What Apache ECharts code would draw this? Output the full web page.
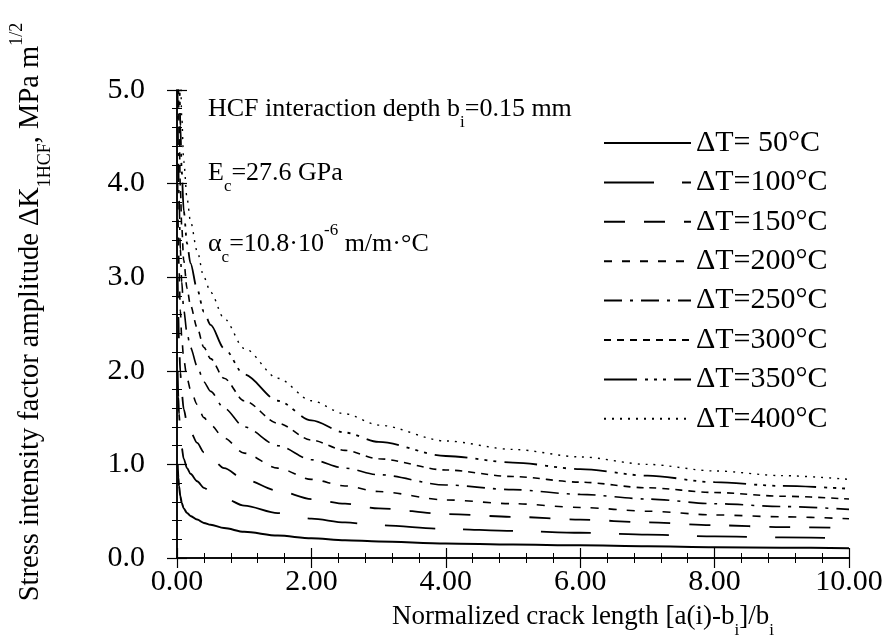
<!DOCTYPE html>
<html>
<head>
<meta charset="utf-8">
<script src="https://cdn.jsdelivr.net/npm/echarts@6/dist/echarts.min.js"></script>
<style>html,body{margin:0;padding:0;background:#fff}#c{width:889px;height:644px}</style>
</head>
<body>
<div id="c"></div>
<script>
// Normalized crack length sample positions
const xValues = [0.01, 0.02, 0.03, 0.05, 0.07, 0.1, 0.15, 0.2, 0.3, 0.4, 0.5, 0.7, 1.0, 1.5, 2, 2.5, 3, 4, 5, 6, 7, 8, 9, 10];
// Stress intensity factor amplitude per temperature range
const dT50  = [1.00, 0.86, 0.77, 0.66, 0.59, 0.53, 0.48, 0.45, 0.41, 0.375, 0.355, 0.32, 0.28, 0.24, 0.21, 0.19, 0.177, 0.156, 0.145, 0.135, 0.125, 0.116, 0.110, 0.105];
const dT100 = [2.00, 1.72, 1.54, 1.32, 1.18, 1.06, 0.96, 0.90, 0.82, 0.75, 0.71, 0.64, 0.56, 0.48, 0.42, 0.38, 0.35, 0.31, 0.29, 0.27, 0.25, 0.23, 0.22, 0.21];
const dT150 = [3.00, 2.58, 2.31, 1.98, 1.77, 1.59, 1.44, 1.35, 1.23, 1.13, 1.07, 0.96, 0.84, 0.72, 0.63, 0.58, 0.53, 0.47, 0.44, 0.41, 0.38, 0.35, 0.33, 0.32];
const dT200 = [4.00, 3.44, 3.08, 2.64, 2.36, 2.12, 1.92, 1.80, 1.64, 1.50, 1.42, 1.28, 1.12, 0.96, 0.84, 0.77, 0.71, 0.62, 0.58, 0.54, 0.50, 0.46, 0.44, 0.42];
const dT250 = [5.00, 4.30, 3.85, 3.30, 2.95, 2.65, 2.40, 2.25, 2.05, 1.88, 1.78, 1.60, 1.40, 1.20, 1.05, 0.96, 0.89, 0.78, 0.73, 0.68, 0.63, 0.58, 0.55, 0.52];
const dT300 = [6.00, 5.16, 4.62, 3.96, 3.54, 3.18, 2.88, 2.70, 2.46, 2.25, 2.13, 1.92, 1.68, 1.44, 1.26, 1.15, 1.06, 0.94, 0.87, 0.81, 0.75, 0.70, 0.66, 0.63];
const dT350 = [7.00, 6.02, 5.39, 4.62, 4.13, 3.71, 3.36, 3.15, 2.87, 2.63, 2.49, 2.24, 1.96, 1.68, 1.47, 1.34, 1.24, 1.09, 1.02, 0.95, 0.88, 0.81, 0.77, 0.74];
const dT400 = [8.00, 6.88, 6.16, 5.28, 4.72, 4.24, 3.84, 3.60, 3.28, 3.00, 2.84, 2.56, 2.24, 1.92, 1.68, 1.54, 1.42, 1.25, 1.16, 1.08, 1.00, 0.93, 0.88, 0.84];
const seriesNames = ['\u0394T= 50\u00B0C', '\u0394T=100\u00B0C', '\u0394T=150\u00B0C', '\u0394T=200\u00B0C', '\u0394T=250\u00B0C', '\u0394T=300\u00B0C', '\u0394T=350\u00B0C', '\u0394T=400\u00B0C'];
const seriesValues = [dT50, dT100, dT150, dT200, dT250, dT300, dT350, dT400];
const dashStyles = ['solid', [50, 28], [21, 19], [8, 10], [18, 8, 3, 8], [7, 6], [33, 8, 3, 6, 3, 6, 3, 8], [2, 6]];
const lineWidths = [2, 1.8, 1.8, 1.6, 1.6, 1.6, 1.8, 1.4];
const xTicks = {min: 0, max: 10, interval: 2};
const yTicks = {min: 0, max: 5, interval: 1};

const FONT = 'Liberation Serif, Times New Roman, serif';
const chart = echarts.init(document.getElementById('c'), null, {renderer: 'canvas'});

const axisCommon = {
  axisLine: {show: true, lineStyle: {color: '#000', width: 1.5}},
  axisTick: {show: true, inside: true, length: 10, lineStyle: {color: '#000', width: 1.2}},
  minorTick: {show: true, splitNumber: 5, length: 5, lineStyle: {color: '#000', width: 1}},
  splitLine: {show: false},
  minorSplitLine: {show: false}
};

const series = seriesNames.map((name, i) => ({
  name: name,
  type: 'line',
  xAxisIndex: 0,
  yAxisIndex: 0,
  showSymbol: false,
  symbol: 'none',
  smooth: 0.3,
  smoothMonotone: 'x',
  clip: true,
  data: xValues.map((x, j) => [x, seriesValues[i][j]]),
  lineStyle: {color: '#000', width: lineWidths[i], type: dashStyles[i]},
  itemStyle: {color: '#000'}
}));

const rich = {
  n: {fontFamily: FONT, fontSize: 26, color: '#000', lineHeight: 44, verticalAlign: 'middle'},
  s: {fontFamily: FONT, fontSize: 17, color: '#000', lineHeight: 17, verticalAlign: 'bottom'},
  p: {fontFamily: FONT, fontSize: 17, color: '#000', lineHeight: 17, verticalAlign: 'top'}
};
const richX = {
  n: {fontFamily: FONT, fontSize: 27, color: '#000', lineHeight: 44, verticalAlign: 'middle'},
  s: {fontFamily: FONT, fontSize: 17, color: '#000', lineHeight: 17, verticalAlign: 'bottom'}
};
const richY = {
  n: {fontFamily: FONT, fontSize: 28.5, color: '#000', lineHeight: 46, verticalAlign: 'middle'},
  s: {fontFamily: FONT, fontSize: 18, color: '#000', lineHeight: 18, verticalAlign: 'bottom'},
  p: {fontFamily: FONT, fontSize: 18, color: '#000', lineHeight: 18, verticalAlign: 'top'}
};

chart.setOption({
  animation: false,
  backgroundColor: '#fff',
  grid: {left: 177, right: 40, top: 90, bottom: 86, containLabel: false},
  xAxis: [
    Object.assign({type: 'value', position: 'bottom', min: xTicks.min, max: xTicks.max, interval: xTicks.interval,
      axisLabel: {show: true, margin: 9, color: '#000', fontFamily: FONT, fontSize: 30, formatter: v => v.toFixed(2)}}, axisCommon),
    Object.assign({type: 'value', position: 'top', min: xTicks.min, max: xTicks.max, interval: xTicks.interval,
      axisLabel: {show: false}}, axisCommon)
  ],
  yAxis: [
    Object.assign({type: 'value', position: 'left', min: yTicks.min, max: yTicks.max, interval: yTicks.interval,
      axisLabel: {show: true, margin: 32, color: '#000', fontFamily: FONT, fontSize: 30, formatter: v => v.toFixed(1)}}, axisCommon),
    Object.assign({type: 'value', position: 'right', min: yTicks.min, max: yTicks.max, interval: yTicks.interval,
      axisLabel: {show: false}}, axisCommon)
  ],
  legend: {
    orient: 'vertical',
    left: 598,
    top: 123,
    itemWidth: 87,
    itemHeight: 14,
    itemGap: 9.4,
    itemStyle: {color: 'rgba(0,0,0,0)', borderColor: 'rgba(0,0,0,0)', borderWidth: 0, opacity: 0},
    textStyle: {color: '#000', fontFamily: FONT, fontSize: 30, lineHeight: 30},
    data: seriesNames
  },
  graphic: [
    {type: 'text', left: 208, top: 96, style: {text: '{n|HCF interaction depth b}{s|i}{n|=0.15 mm}', rich: rich}},
    {type: 'text', left: 208, top: 160, style: {text: '{n|E}{s|c}{n|=27.6 GPa}', rich: rich}},
    {type: 'text', left: 208, top: 222, style: {text: '{n|\u03B1}{s|c}{n|=10.8\u00B710}{p|-6}{n| m/m\u00B7\u00B0C}', rich: rich}},
    {type: 'text', x: 583, y: 617, style: {text: '{n|Normalized crack length [a(i)-b}{s|i}{n|]/b}{s|i}', rich: richX, align: 'center', verticalAlign: 'middle'}},
    {type: 'text', x: 31, y: 312, rotation: Math.PI / 2, style: {text: '{n|Stress intensity factor amplitude \u0394K}{s|1HCF}{n|, MPa m}{p|1/2}', rich: richY, align: 'center', verticalAlign: 'middle'}}
  ],
  series: series
});
</script>
</body>
</html>
